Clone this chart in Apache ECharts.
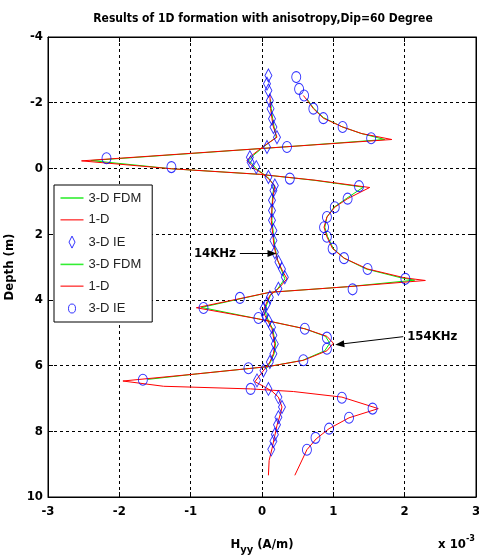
<!DOCTYPE html>
<html><head><meta charset="utf-8">
<script src="https://cdn.jsdelivr.net/npm/echarts@6/dist/echarts.min.js"></script>
<style>html,body{margin:0;padding:0;background:#fff}#c{width:479px;height:557px}</style>
</head><body><div id="c"></div><script>
// tick values
const xTicks = [-3, -2, -1, 0, 1, 2, 3];
const depthTicks = [-4, -2, 0, 2, 4, 6, 8, 10];

// 154 KHz curves: [Hyy (x1e-3 A/m), depth (m)]
const oneD154 = [[0.58,-2.22],[0.66,-2.0],[0.72,-1.82],[0.86,-1.53],[1.13,-1.26],[1.40,-1.06],[1.82,-0.88],[0.35,-0.66],[-2.53,-0.23],[-1.27,0.01],[-0.03,0.18],[0.75,0.36],[1.51,0.58],[1.20,0.92],[1.02,1.18],[0.91,1.48],[0.87,1.79],[0.91,2.08],[0.99,2.44],[1.15,2.73],[1.48,3.06],[2.0,3.33],[2.29,3.41],[1.2,3.6],[0.11,3.77],[-0.92,4.24],[-0.05,4.58],[0.60,4.88],[0.91,5.11],[1.00,5.32],[0.91,5.55],[0.58,5.84],[0.09,6.03],[-0.9,6.25],[-1.95,6.47],[-1.38,6.63],[-0.16,6.71],[0.44,6.79],[1.12,6.96],[1.63,7.31],[1.22,7.59],[0.94,7.92],[0.76,8.23],[0.63,8.56],[0.46,9.34]];
const fdm154 = [[0.63,-2.12],[0.72,-1.84],[0.86,-1.55],[1.12,-1.27],[1.38,-1.07],[1.72,-0.88],[0.35,-0.66],[-2.4,-0.24],[-1.27,0.01],[-0.03,0.18],[0.73,0.36],[1.42,0.57],[1.18,0.92],[1.01,1.18],[0.91,1.48],[0.88,1.79],[0.92,2.08],[1.0,2.44],[1.15,2.73],[1.46,3.06],[1.95,3.33],[2.14,3.40],[1.2,3.6],[0.11,3.77],[-0.85,4.23],[-0.05,4.58],[0.60,4.88],[0.89,5.11],[0.95,5.32],[0.88,5.55],[0.57,5.84],[0.09,6.03],[-0.9,6.25],[-1.6,6.42]];
const ie154 = [[0.48,-2.78],[0.52,-2.42],[0.59,-2.22],[0.72,-1.82],[0.86,-1.53],[1.13,-1.26],[1.53,-0.92],[0.35,-0.65],[-2.18,-0.31],[-1.27,-0.04],[0.39,0.31],[1.36,0.54],[1.20,0.92],[1.02,1.18],[0.91,1.48],[0.87,1.79],[0.91,2.08],[0.99,2.44],[1.15,2.73],[1.48,3.06],[2.01,3.36],[1.27,3.68],[-0.31,3.94],[-0.82,4.25],[-0.05,4.55],[0.60,4.88],[0.91,5.15],[0.91,5.49],[0.58,5.84],[-0.19,6.08],[-1.67,6.43],[-0.16,6.71],[1.12,6.98],[1.55,7.31],[1.22,7.59],[0.94,7.92],[0.75,8.2],[0.63,8.56]];

// 14 KHz curves
const oneD14 = [[0.11,-2.25],[0.12,-1.82],[0.14,-1.51],[0.16,-1.26],[0.21,-0.95],[0.02,-0.67],[-0.14,-0.4],[-0.21,-0.24],[-0.1,0.01],[0.0,0.15],[0.09,0.31],[0.18,0.53],[0.16,0.8],[0.14,1.2],[0.13,1.58],[0.15,1.99],[0.17,2.39],[0.22,2.8],[0.29,3.13],[0.35,3.36],[0.23,3.66],[0.11,3.86],[0.07,4.06],[0.02,4.32],[0.04,4.47],[0.09,4.68],[0.14,4.88],[0.16,5.13],[0.18,5.34],[0.16,5.64],[0.11,5.89],[0.04,6.1],[-0.05,6.35],[-0.1,6.49],[0.02,6.63],[0.14,6.78],[0.23,6.96],[0.28,7.26],[0.26,7.46],[0.21,7.82],[0.18,8.13],[0.14,8.53],[0.1,8.89],[0.09,9.34]];
const fdm14 = [[0.12,-2.1],[0.13,-1.82],[0.15,-1.51],[0.17,-1.26],[0.2,-0.95],[0.03,-0.67],[-0.12,-0.4],[-0.18,-0.24],[-0.08,0.01],[0.01,0.15],[0.1,0.31],[0.17,0.53],[0.15,0.8],[0.14,1.2],[0.14,1.58],[0.16,1.99],[0.18,2.39],[0.22,2.8],[0.28,3.13],[0.32,3.36],[0.22,3.66],[0.12,3.86],[0.08,4.06],[0.04,4.32],[0.06,4.47],[0.1,4.68],[0.15,4.88],[0.17,5.13],[0.19,5.34],[0.17,5.64],[0.12,5.89],[0.06,6.1]];
const ie14 = [[0.09,-2.83],[0.07,-2.58],[0.09,-2.37],[0.11,-2.07],[0.12,-1.82],[0.14,-1.51],[0.16,-1.26],[0.21,-0.95],[0.07,-0.65],[-0.17,-0.34],[-0.16,-0.19],[-0.08,-0.04],[0.09,0.26],[0.18,0.52],[0.16,0.67],[0.14,0.97],[0.14,1.28],[0.14,1.58],[0.16,1.89],[0.16,2.19],[0.18,2.55],[0.23,2.85],[0.28,3.06],[0.32,3.31],[0.23,3.66],[0.11,3.92],[0.07,4.12],[0.02,4.27],[0.04,4.47],[0.09,4.63],[0.14,4.83],[0.16,5.08],[0.18,5.34],[0.16,5.64],[0.11,5.89],[0.02,6.15],[-0.07,6.45],[0.09,6.71],[0.23,6.96],[0.28,7.26],[0.23,7.57],[0.21,7.8],[0.18,8.1],[0.16,8.3],[0.13,8.55]];

// annotations: [label, fromX, fromDepth, toX, toDepth]
const notes = [["14KHz", -0.31, 2.59, 0.14, 2.59], ["154KHz", 1.98, 5.12, 1.09, 5.35]];

const NARROW = '"Liberation Sans Narrow","DejaVu Sans Condensed","Arial Narrow",sans-serif';
const SANS = '"Liberation Sans",Arial,sans-serif';
const ELLIPSE = 'path://M0,-1A1,1 0 1,1 0,1A1,1 0 1,1 0,-1Z';
const ICON_LINE = 'path://M0,0M23,14M0,6.2H23V7.8H0Z';
const ICON_DIAMOND = 'path://M0,0M23,14M11.5,1L14.5,7L11.5,13L8.5,7Z';
const ICON_CIRCLE = 'path://M0,0M23,14M11.5,2.5A3.5,4.5 0 1,1 11.5,11.5A3.5,4.5 0 1,1 11.5,2.5Z';
const hollow = c => ({color: 'rgba(0,0,0,0)', borderColor: c, borderWidth: 1});

const chart = echarts.init(document.getElementById('c'), null, {renderer: 'canvas'});
const lineS = (name, data, color) => ({
  name, type: 'line', data, symbol: 'none', smooth: false,
  lineStyle: {color, width: 1}, itemStyle: {color}, z: color === '#ff0000' ? 3 : 2, animation: false
});
const axisCommon = {
  axisLine: {show: true, onZero: false, lineStyle: {color: '#000', width: 1}},
  axisTick: {show: true, inside: true, length: 5, lineStyle: {color: '#000'}},
  splitLine: {show: true, lineStyle: {color: '#000', type: [3, 3], width: 1}},
};
chart.setOption({
  animation: false,
  backgroundColor: '#fff',
  title: {
    text: 'Results of 1D formation with anisotropy,Dip=60 Degree',
    left: 258, top: 8, textAlign: 'center',
    textStyle: {fontFamily: NARROW, fontWeight: 'bold', fontSize: 12, color: '#000'}
  },
  grid: {left: 48, right: 3, top: 37, bottom: 60, outerBoundsMode: 'none', containLabel: false,
    show: true, borderColor: '#000', borderWidth: 1, backgroundColor: '#fff'},
  xAxis: [{
    type: 'value', min: xTicks[0], max: xTicks[xTicks.length - 1], interval: 1, position: 'bottom',
    ...axisCommon,
    axisLabel: {margin: 8, color: '#000', fontFamily: NARROW, fontWeight: 'bold', fontSize: 13,
      formatter: v => xTicks.includes(v) ? String(v) : ''},
    name: '{a|H}{b|yy}{a| (A/m)}', nameLocation: 'middle', nameGap: 36,
    nameTextStyle: {rich: {
      a: {fontFamily: NARROW, fontWeight: 'bold', fontSize: 13, color: '#000'},
      b: {fontFamily: NARROW, fontWeight: 'bold', fontSize: 11, color: '#000', padding: [12, 0, 0, 0]}
    }}
  }, {
    type: 'value', min: xTicks[0], max: xTicks[xTicks.length - 1], interval: 1, position: 'top',
    axisLine: {show: true, onZero: false, lineStyle: {color: '#000'}},
    axisTick: {show: true, inside: true, length: 5, lineStyle: {color: '#000'}},
    axisLabel: {show: false}, splitLine: {show: false}
  }],
  yAxis: [{
    type: 'value', min: depthTicks[0], max: depthTicks[depthTicks.length - 1], interval: 2, inverse: true,
    ...axisCommon,
    axisLabel: {margin: 5, color: '#000', fontFamily: NARROW, fontWeight: 'bold', fontSize: 13,
      formatter: v => depthTicks.includes(v) ? String(v) : ''},
    name: 'Depth (m)', nameLocation: 'middle', nameGap: 21, nameRotate: 90,
    nameTextStyle: {fontFamily: NARROW, fontWeight: 'bold', fontSize: 13, color: '#000'}
  }, {
    type: 'value', min: depthTicks[0], max: depthTicks[depthTicks.length - 1], interval: 2, inverse: true, position: 'right',
    axisLine: {show: true, onZero: false, lineStyle: {color: '#000'}},
    axisTick: {show: true, inside: true, length: 5, lineStyle: {color: '#000'}},
    axisLabel: {show: false}, splitLine: {show: false}
  }],
  legend: {
    orient: 'vertical', left: 54, top: 185,
    itemWidth: 23, itemHeight: 14, itemGap: 7.8,
    padding: [6, 11, 6, 6],
    borderColor: '#000', borderWidth: 1, backgroundColor: '#fff',
    textStyle: {fontFamily: SANS, fontSize: 13, color: '#222'},
    formatter: n => n.trim(),
    data: [
      {name: '3-D FDM', icon: ICON_LINE, itemStyle: {color: '#33ee33', borderWidth: 0}},
      {name: '1-D', icon: ICON_LINE, itemStyle: {color: '#ff5555', borderWidth: 0}},
      {name: '3-D IE', icon: ICON_DIAMOND, itemStyle: hollow('#0000ff')},
      {name: '3-D FDM ', icon: ICON_LINE, itemStyle: {color: '#33ee33', borderWidth: 0}},
      {name: '1-D ', icon: ICON_LINE, itemStyle: {color: '#ff5555', borderWidth: 0}},
      {name: '3-D IE ', icon: ICON_CIRCLE, itemStyle: hollow('#0000ff')}
    ],
    z: 10
  },
  graphic: [{
    type: 'text', right: 4, bottom: 6,
    style: {text: '{a|x 10}{s|-3}', rich: {
      a: {fontFamily: NARROW, fontWeight: 'bold', fontSize: 13, fill: '#000'},
      s: {fontFamily: NARROW, fontWeight: 'bold', fontSize: 9, fill: '#000', padding: [0, 0, 12, 0]}
    }}
  }],
  series: [
    lineS('3-D FDM', fdm14, '#00ee00'),
    lineS('1-D', oneD14, '#ff0000'),
    {name: '3-D IE', type: 'scatter', data: ie14, symbol: 'diamond', symbolSize: [7, 13], itemStyle: hollow('#0000ff'), z: 4},
    lineS('3-D FDM ', fdm154, '#00ee00'),
    lineS('1-D ', oneD154, '#ff0000'),
    {name: '3-D IE ', type: 'scatter', data: ie154, symbol: ELLIPSE, symbolSize: [9, 11], itemStyle: hollow('#0000ff'), z: 4},
    {
      name: 'notes', type: 'line', data: [], symbol: 'none', z: 5,
      markLine: {
        silent: true, animation: false,
        symbol: ['none', 'triangle'], symbolSize: [7, 9],
        lineStyle: {color: '#000', width: 1, type: 'solid'},
        itemStyle: {color: '#000'},
        label: {show: true, position: 'start', distance: 4, color: '#000',
          fontFamily: NARROW, fontWeight: 'bold', fontSize: 13, formatter: p => p.name},
        data: notes.map(n => [{name: n[0], coord: [n[1], n[2]]}, {coord: [n[3], n[4]]}])
      }
    }
  ]
});
</script></body></html>
